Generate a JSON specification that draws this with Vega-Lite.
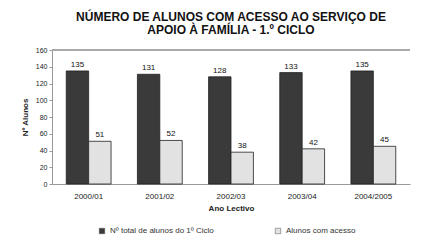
{
  "$schema": "https://vega.github.io/schema/vega-lite/v6.json",
  "autosize": {"type": "none"},
  "width": 358,
  "height": 134,
  "padding": {"left": 52, "top": 50, "right": 16, "bottom": 56},
  "background": "white",
  "config": {
    "font": "Liberation Sans",
    "view": {"stroke": null},
    "axis": {"labelFont": "Liberation Sans", "titleFont": "Liberation Sans", "labelColor": "#222", "titleColor": "#222", "domainColor": "#999", "tickColor": "#999"}
  },
  "title": {
    "text": ["NÚMERO DE ALUNOS COM ACESSO AO SERVIÇO DE", "APOIO À FAMÍLIA - 1.º CICLO"],
    "fontSize": 12,
    "fontWeight": "bold",
    "color": "#111",
    "anchor": "middle",
    "offset": 9,
    "lineHeight": 13
  },
  "data": {
    "values": [
      {"ano": "2000/01", "serie": "Nº total de alunos do 1º Ciclo", "valor": 135},
      {"ano": "2000/01", "serie": "Alunos com acesso", "valor": 51},
      {"ano": "2001/02", "serie": "Nº total de alunos do 1º Ciclo", "valor": 131},
      {"ano": "2001/02", "serie": "Alunos com acesso", "valor": 52},
      {"ano": "2002/03", "serie": "Nº total de alunos do 1º Ciclo", "valor": 128},
      {"ano": "2002/03", "serie": "Alunos com acesso", "valor": 38},
      {"ano": "2003/04", "serie": "Nº total de alunos do 1º Ciclo", "valor": 133},
      {"ano": "2003/04", "serie": "Alunos com acesso", "valor": 42},
      {"ano": "2004/2005", "serie": "Nº total de alunos do 1º Ciclo", "valor": 135},
      {"ano": "2004/2005", "serie": "Alunos com acesso", "valor": 45}
    ]
  },
  "encoding": {
    "x": {"field": "ano", "type": "nominal", "sort": null, "title": "Ano Lectivo",
      "scale": {"paddingInner": 0.37, "paddingOuter": 0.2},
      "axis": {"labelAngle": 0, "labelFontSize": 8, "titleFontSize": 8, "titleFontWeight": "bold", "ticks": false, "labelPadding": 8, "titlePadding": 4}},
    "xOffset": {"field": "serie", "type": "nominal", "sort": ["Nº total de alunos do 1º Ciclo", "Alunos com acesso"]},
    "y": {"field": "valor", "type": "quantitative", "title": "Nº Alunos",
      "scale": {"domain": [0, 160]},
      "axis": {"values": [0, 20, 40, 60, 80, 100, 120, 140, 160], "grid": false, "labelFontSize": 7, "titleFontSize": 8, "titleFontWeight": "bold", "tickSize": 3, "titlePadding": 6}}
  },
  "layer": [
    {
      "mark": {"type": "rule", "color": "#aaa"},
      "encoding": {"y": {"datum": 160}, "x": null, "xOffset": null}
    },
    {
      "mark": {"type": "bar", "strokeWidth": 0.8},
      "encoding": {
        "color": {"field": "serie", "type": "nominal", "sort": ["Nº total de alunos do 1º Ciclo", "Alunos com acesso"],
          "scale": {"domain": ["Nº total de alunos do 1º Ciclo", "Alunos com acesso"], "range": ["#3a3a3a", "#e2e2e2"]},
          "legend": {"orient": "none", "legendX": 46, "legendY": 177, "direction": "horizontal", "title": null, "labelFontSize": 8, "symbolType": "square", "symbolSize": 30, "columnPadding": 60, "labelColor": "#333", "symbolStrokeColor": "#555", "symbolStrokeWidth": 0.5}},
        "stroke": {"value": "#222"}
      }
    },
    {
      "mark": {"type": "text", "dy": -6, "fontSize": 8, "color": "#111"},
      "encoding": {"text": {"field": "valor", "type": "quantitative"}}
    }
  ]
}
